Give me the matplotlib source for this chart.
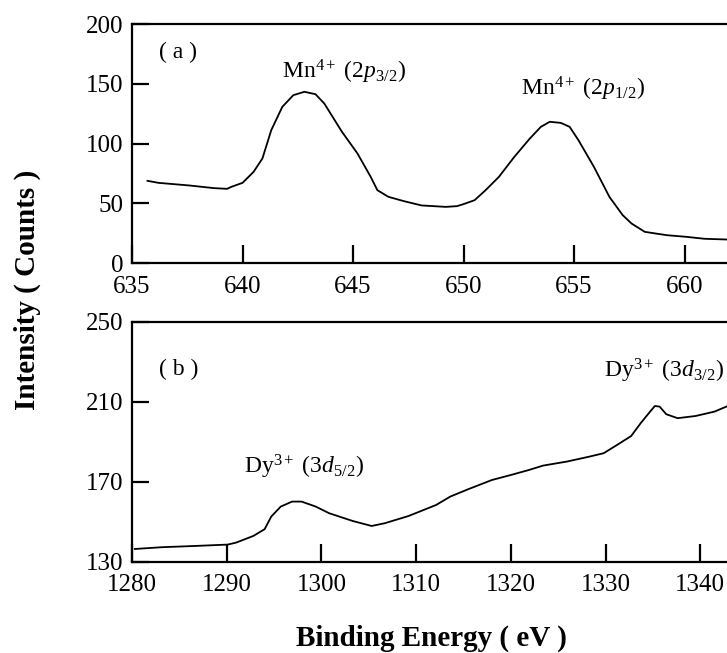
import matplotlib
matplotlib.use('Agg')
import matplotlib.pyplot as plt

plt.rcParams['font.family'] = ['Liberation Serif', 'DejaVu Serif']
plt.rcParams['mathtext.fontset'] = 'custom'
plt.rcParams['mathtext.rm'] = 'Liberation Serif'
plt.rcParams['mathtext.it'] = 'Liberation Serif:italic'

# (a) Mn 2p region
mn_energy = [635.7, 636.2, 637.6, 638.7, 639.3, 639.5, 640.0, 640.5, 640.9, 641.3,
             641.8, 642.3, 642.8, 643.3, 643.7, 644.5, 645.2, 645.8, 646.1, 646.6,
             647.3, 648.1, 649.2, 649.7, 650.0, 650.5, 651.0, 651.6, 652.3, 653.0,
             653.5, 653.9, 654.4, 654.8, 655.2, 655.9, 656.6, 657.2, 657.6, 658.2,
             659.2, 660.1, 660.9, 661.9, 663.0, 664.0]
mn_counts = [68.9, 67.2, 65.0, 62.8, 62.2, 63.9, 67.2, 76.4, 87.6, 111.3,
             130.8, 140.6, 143.4, 141.4, 133.6, 109.9, 91.8, 72.2, 61.1, 55.5,
             51.9, 48.3, 47.1, 47.7, 49.4, 52.7, 61.1, 72.2, 89.0, 104.3,
             114.1, 118.3, 117.4, 114.1, 102.9, 80.6, 55.5, 40.2, 33.2, 26.2,
             23.4, 22.0, 20.4, 19.8, 19.5, 19.2]

# (b) Dy 3d region
dy_energy = [1280.3, 1283.2, 1286.6, 1290.1, 1291.0, 1292.8, 1294.0, 1294.7, 1295.7, 1296.9,
             1297.9, 1299.4, 1300.8, 1303.3, 1305.3, 1306.7, 1309.2, 1312.1, 1313.6, 1315.5,
             1318.0, 1320.0, 1321.9, 1323.4, 1325.9, 1328.3, 1329.8, 1331.2, 1332.7, 1333.7,
             1334.7, 1335.2, 1335.7, 1336.4, 1337.6, 1339.5, 1341.5, 1342.9, 1345.0]
dy_counts = [136.3, 137.2, 137.8, 138.5, 139.5, 142.8, 146.2, 152.5, 157.5, 160.0,
             160.0, 157.5, 154.2, 150.3, 147.8, 149.2, 152.8, 158.3, 162.5, 166.2,
             170.8, 173.3, 175.8, 178.0, 180.0, 182.5, 184.2, 188.3, 192.8, 199.2,
             205.0, 207.8, 207.5, 203.7, 201.7, 202.8, 205.0, 207.8, 211.0]

fig = plt.figure(figsize=(7.27, 6.53), dpi=100)
# right edge of both frames lies past the picture, as in the cropped original
ax1 = fig.add_axes([0.1816, 0.597, 0.912, 0.366])
ax2 = fig.add_axes([0.1816, 0.140, 0.912, 0.3675])

ax1.plot(mn_energy, mn_counts, color='black', lw=1.3)
ax1.set_xlim(635, 665)
ax1.set_ylim(0, 200)
ax1.set_xticks([635, 640, 645, 650, 655, 660])
ax1.set_yticks([0, 50, 100, 150, 200])
ax1.text(637.1, 176, '( a )', fontsize=17, ha='center', va='center')
ax1.text(644.6, 160, r'Mn$^{4+}$ $\it{(2p}_{3/2}$)', fontsize=17, ha='center', va='center')
ax1.text(655.4, 146, r'Mn$^{4+}$ $\it{(2p}_{1/2}$)', fontsize=17, ha='center', va='center')

ax2.plot(dy_energy, dy_counts, color='black', lw=1.3)
ax2.set_xlim(1280, 1350)
ax2.set_ylim(130, 250)
ax2.set_xticks([1280, 1290, 1300, 1310, 1320, 1330, 1340])
ax2.set_yticks([130, 170, 210, 250])
ax2.text(1284.9, 226, '( b )', fontsize=17, ha='center', va='center')
ax2.text(1298.2, 177.5, r'Dy$^{3+}$ $\it{(3d}_{5/2}$)', fontsize=17, ha='center', va='center')
ax2.text(1336.2, 225.5, r'Dy$^{3+}$ $\it{(3d}_{3/2}$)', fontsize=17, ha='center', va='center')

for ax in (ax1, ax2):
    for s in ax.spines.values():
        s.set_linewidth(1.6)
    ax.tick_params(axis='x', direction='in', length=13, width=1.6, labelsize=18, pad=9)
    ax.tick_params(axis='y', direction='in', length=12, width=1.6, labelsize=18, pad=6)

fig.text(0.038, 0.556, 'Intensity ( Counts )', rotation=90, fontsize=21,
         fontweight='bold', ha='center', va='center')
fig.text(0.593, 0.022, 'Binding Energy ( eV )', fontsize=21,
         fontweight='bold', ha='center', va='center')

fig.savefig('out.png', dpi=100)
